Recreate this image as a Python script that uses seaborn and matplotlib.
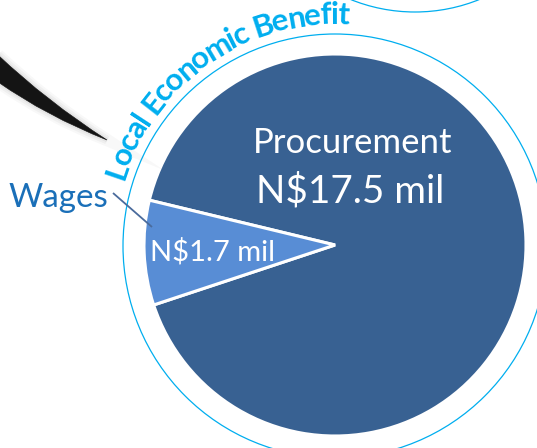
import numpy as np
import matplotlib
matplotlib.use("Agg")
import matplotlib.pyplot as plt
import seaborn as sns
from matplotlib.patches import Circle, PathPatch
from matplotlib.path import Path
from matplotlib.font_manager import FontProperties
from matplotlib.textpath import TextToPath

# --- data -------------------------------------------------------------
categories = ["Procurement", "Wages"]
values = [17.5, 1.7]
value_labels = ["N$17.5 mil", "N$1.7 mil"]
ring_title = "Local Economic Benefit"

# --- style ------------------------------------------------------------
sns.set_theme(style="white")
plt.rcParams["font.family"] = ["Lato", "DejaVu Sans"]

W, H, DPI = 537, 448, 100
palette = sns.color_palette(["#386192", "#588dd5"])
ring_blue = "#00aeef"
label_blue = "#1a6fb8"

fig = plt.figure(figsize=(W / DPI, H / DPI), dpi=DPI)
ax = fig.add_axes([0, 0, 1, 1])


def Y(y):
    """Convert a top-down pixel row into the axes' bottom-up coordinate."""
    return H - y


_t2p = TextToPath()


def text_width_px(s, size_pt, weight="normal"):
    prop = FontProperties(family=["Lato", "DejaVu Sans"], size=size_pt, weight=weight)
    w, _, _ = _t2p.get_text_width_height_descent(s, prop, ismath=False)
    return w * DPI / 72.0


def size_for_width(s, width_px, weight="normal"):
    return 10.0 * width_px / text_width_px(s, 10.0, weight)


# --- pie --------------------------------------------------------------
cx, cy, r_pie = 335, Y(245), 191
ax.pie(values, colors=palette, startangle=198.3, counterclock=True,
       center=(cx, cy), radius=r_pie,
       wedgeprops=dict(edgecolor="white", linewidth=2.2))

# outer ring around the pie
ax.add_patch(Circle((cx, Y(246)), 212, fill=False, ec=ring_blue, lw=0.9))
# neighbouring ring peeking in at the top
ax.add_patch(Circle((415, Y(-160)), 172, fill=False, ec=ring_blue, lw=0.9))

# --- black swoosh -----------------------------------------------------
verts = [(-2, Y(55)), (46.5, Y(101)), (107, Y(140)),
         (46.5, Y(116)), (-2, Y(82)), (-2, Y(55))]
codes = [Path.MOVETO, Path.CURVE3, Path.CURVE3,
         Path.CURVE3, Path.CURVE3, Path.CLOSEPOLY]
swoosh = Path(verts, codes)
for lw, a in [(9, 0.04), (6, 0.05), (3, 0.07)]:
    ax.add_patch(PathPatch(swoosh, fc="none", ec="#555555", lw=lw, alpha=a))
ax.add_patch(PathPatch(swoosh, fc="#141414", ec="#141414", lw=0.4))

# --- slice labels -----------------------------------------------------
s_cat = size_for_width(categories[0], 199)
s_val = size_for_width(value_labels[0], 188)
ax.text(353, Y(153), categories[0], color="white", fontsize=s_cat,
        ha="center", va="baseline")
ax.text(350, Y(202), value_labels[0], color="white", fontsize=s_val,
        ha="center", va="baseline")

s_small = size_for_width(value_labels[1], 125)
ax.text(213, Y(260), value_labels[1], color="white", fontsize=s_small,
        ha="center", va="baseline")

s_wages = size_for_width(categories[1], 100)
ax.text(58, Y(207), categories[1], color=label_blue, fontsize=s_wages,
        ha="center", va="baseline")
ax.plot([113, 152], [Y(193), Y(227)], color="#4a6b9c", lw=1.3,
        solid_capstyle="butt")

# --- curved title along the ring --------------------------------------
r_text = 221
start_deg, end_deg = 163.0, 86.5
arc_len = np.deg2rad(start_deg - end_deg) * r_text
tracking = 0.90          # letters set a little tighter than the font's advance
s_title = size_for_width(ring_title, arc_len / tracking, weight="bold")
for i, ch in enumerate(ring_title):
    if ch == " ":
        continue
    a0 = text_width_px(ring_title[:i], s_title, "bold") if i else 0.0
    a1 = text_width_px(ring_title[:i + 1], s_title, "bold")
    mid = 0.5 * (a0 + a1) * tracking
    theta = np.deg2rad(start_deg) - mid / r_text
    x = cx + r_text * np.cos(theta)
    y = Y(245) + r_text * np.sin(theta)
    ax.text(x, y, ch, color=ring_blue, fontsize=s_title, fontweight="bold",
            rotation=np.rad2deg(theta) - 90, rotation_mode="anchor",
            ha="center", va="baseline")

ax.set_xlim(0, W)
ax.set_ylim(0, H)
ax.set_aspect("equal")
ax.axis("off")

fig.savefig("out.png", dpi=DPI, facecolor="white")
